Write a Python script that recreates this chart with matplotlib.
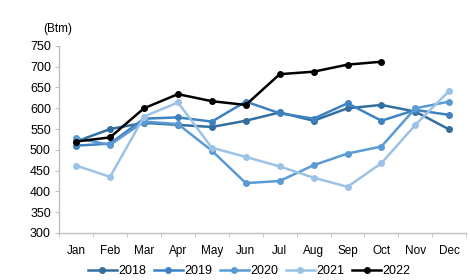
import matplotlib
matplotlib.use("Agg")
import matplotlib.pyplot as plt
from matplotlib.ticker import FixedLocator

months = ["Jan", "Feb", "Mar", "Apr", "May", "Jun", "Jul", "Aug", "Sep", "Oct", "Nov", "Dec"]
s2018 = [520, 550, 565, 560, 555, 570, 590, 570, 600, 608, 592, 549]
s2019 = [510, 515, 575, 578, 568, 616, 588, 575, 612, 570, 596, 584]
s2020 = [528, 512, 568, 562, 498, 420, 425, 463, 491, 508, 600, 616]
s2021 = [462, 435, 580, 614, 505, 483, 460, 433, 411, 468, 560, 642]
s2022 = [520, 530, 600, 634, 617, 608, 682, 688, 705, 712]

series = [("2018", s2018, "#336f9e"), ("2019", s2019, "#3f82c0"),
          ("2020", s2020, "#5b9bd5"), ("2021", s2021, "#9cc2e5"),
          ("2022", s2022, "#000000")]

plt.rcParams["font.family"] = ["Liberation Sans", "DejaVu Sans"]
fig = plt.figure(figsize=(4.7, 2.8), dpi=100)
ax = fig.add_axes([0.126, 0.168, 0.866, 0.668])

x = list(range(12))
for name, vals, col in series:
    ax.plot(x[:len(vals)], vals, color=col, lw=1.8, marker="o", ms=4, label=name,
            zorder=3 if name == "2022" else 2)

ax.set_ylim(300, 750)
ax.set_yticks(range(300, 751, 50))
ax.set_xlim(-0.5, 11.5)
ax.set_xticks(x)
ax.set_xticklabels(months)
ax.xaxis.set_minor_locator(FixedLocator([i - 0.5 for i in range(13)]))
ax.tick_params(axis="x", which="major", length=0, labelsize=8.5, pad=9)
ax.tick_params(axis="x", which="minor", length=3, color="#bfbfbf")
ax.tick_params(axis="y", length=3, color="#bfbfbf", labelsize=9, pad=3)
for s in ["top", "right"]:
    ax.spines[s].set_visible(False)
for s in ["left", "bottom"]:
    ax.spines[s].set_color("#bfbfbf")
    ax.spines[s].set_linewidth(1)

fig.text(0.092, 0.895, "(Btm)", fontsize=8.5, va="center")

ax.legend(loc="upper center", bbox_to_anchor=(0.467, -0.145), ncol=5, frameon=False,
          fontsize=9, handlelength=2.3, columnspacing=0.6, handletextpad=0.15,
          borderaxespad=0)

fig.savefig("out.png", dpi=100)
